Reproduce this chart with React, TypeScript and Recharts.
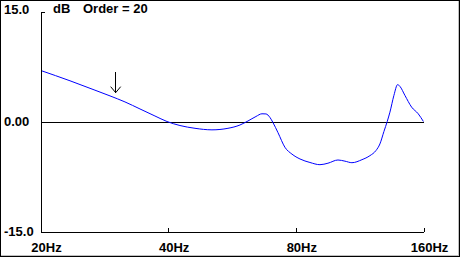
import React from 'react';
import { LineChart, Line, XAxis, YAxis, ReferenceLine } from 'recharts';

// frequency (Hz)
const freqs = [
  20, 23.41, 26.81, 29.09, 31.55, 34.23, 37.13, 39.63, 42.53, 46.15, 50.6, 55.19, 58.9,
  61.52, 64.25, 66.38, 67.83, 69.32, 70.46, 72.4, 75.2, 78.12, 81.59, 86.14, 90.94, 94.98,
  100.28, 104.16, 108.19, 114.23, 119.29, 123.24, 125.94, 128.71, 131.04, 132.98, 135.89,
  138.65, 140.39, 144.25, 149.6, 155.06, 159.48,
];
// response in dB
const gains = [
  7.01, 5.62, 4.34, 3.56, 2.74, 1.78, 0.82, 0.07, -0.48, -0.86, -1.07, -0.86, -0.41,
  0.14, 0.75, 1.12, 1.1, 0.62, -0.07, -1.44, -3.45, -4.38, -5.04, -5.52, -5.82, -5.62,
  -5.18, -5.34, -5.55, -5.14, -4.59, -3.9, -2.99, -1.3, 0.07, 1.34, 3.63,
  5.1, 4.86, 3.63, 2.03, 1.12, 0.07,
];

const xTicks = [20, 40, 80, 160];
const xLabels = ['20Hz', '40Hz', '80Hz', '160Hz'];
const yTicks = [-15, 0, 15];
const yLabels = ['-15.0', '0.00', '15.0'];
const order = 20;
const markerFreq = 30;

const data = freqs.map((f, i) => ({ f, db: gains[i] }));

const FONT = '"Liberation Sans", Arial, sans-serif';

const XTick = (props: any) => {
  const { x, y, payload } = props;
  const i = xTicks.indexOf(payload.value);
  return (
    <g>
      {i > 0 && <line x1={x} y1={y - 4} x2={x} y2={y} stroke="#000" shapeRendering="crispEdges" />}
      <text x={x + 5.5} y={y + 20} textAnchor="middle" fontFamily={FONT} fontWeight="bold" fontSize={13} fill="#000">
        {xLabels[i]}
      </text>
    </g>
  );
};

const YTick = (props: any) => {
  const { x, y, payload } = props;
  const i = yTicks.indexOf(payload.value);
  return (
    <g>
      {payload.value === 15 && <line x1={x} y1={y} x2={x + 4} y2={y} stroke="#000" shapeRendering="crispEdges" />}
      <text x={4} y={y + (payload.value === 15 ? 2 : 4)} textAnchor="start" fontFamily={FONT} fontWeight="bold" fontSize={13} fill="#000">
        {yLabels[i]}
      </text>
    </g>
  );
};

const Arrow = (props: any) => {
  const { x1, y1, x2, y2 } = props;
  return (
    <g stroke="#000" fill="none" shapeRendering="crispEdges">
      <line x1={x1} y1={y1} x2={x2} y2={y2} />
      <polyline points={`${x2 - 5},${y2 - 6} ${x2},${y2} ${x2 + 5},${y2 - 6}`} shapeRendering="auto" />
    </g>
  );
};

export default function App() {
  return (
    <div style={{ position: 'absolute', left: 0, top: 0, width: 460, height: 257, background: '#fff' }}>
      <LineChart width={460} height={257} data={data} margin={{ top: 12, right: 36, bottom: 0, left: 0 }}>
        <XAxis
          dataKey="f"
          type="number"
          scale="log"
          domain={[20, 160]}
          ticks={xTicks}
          allowDataOverflow
          height={25}
          axisLine={{ stroke: '#000', shapeRendering: 'crispEdges' }}
          tickLine={false}
          tickSize={0}
          tickMargin={0}
          tick={<XTick />}
          interval={0}
        />
        <YAxis
          type="number"
          domain={[-15, 15]}
          ticks={yTicks}
          width={41}
          axisLine={{ stroke: '#000', shapeRendering: 'crispEdges' }}
          tickLine={false}
          tickSize={0}
          tickMargin={0}
          tick={<YTick />}
          interval={0}
        />
        <ReferenceLine y={0} stroke="#000" shapeRendering="crispEdges" />
        <ReferenceLine
          segment={[
            { x: markerFreq, y: 6.8 },
            { x: markerFreq, y: 4.0 },
          ]}
          shape={<Arrow />}
        />
        <Line
          dataKey="db"
          type="monotone"
          stroke="#0000ff"
          strokeWidth={1}
          dot={false}
          isAnimationActive={false}
        />
      </LineChart>
      <div style={{ position: 'absolute', left: 53, top: 2, font: `bold 13px ${FONT}`, lineHeight: '14px' }}>dB</div>
      <div style={{ position: 'absolute', left: 83, top: 2, font: `bold 13px ${FONT}`, lineHeight: '14px' }}>
        Order = {order}
      </div>
      <div
        style={{
          position: 'absolute',
          inset: 0,
          border: '1px solid #000',
          boxShadow: 'inset -1px -1px 0 #c0c0c0',
          pointerEvents: 'none',
        }}
      />
    </div>
  );
}
